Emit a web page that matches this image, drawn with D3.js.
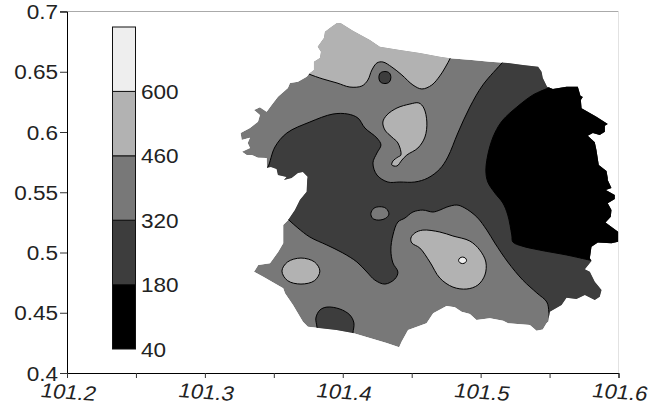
<!DOCTYPE html>
<meta charset="utf-8">
<style>
html, body { margin: 0; background: #fff; }
text { font-family: "Liberation Sans", Arial, sans-serif; fill: #222; }
.contour { fill: none; stroke: #000; stroke-width: 1px; }
</style>
<body>
<script src="https://d3js.org/d3.v7.min.js"></script>
<svg id="chart" width="660" height="410"></svg>
<script>

// levels of the contour map, and what the colour bar shows
var levels = [40, 180, 320, 460, 600, 740];
var levelLabels = [40, 180, 320, 460, 600];
var levelColors = ["#000000", "#3d3d3d", "#787878", "#b2b2b2", "#eeeeee"];

var xTicks = [101.2, 101.25, 101.3, 101.35, 101.4, 101.45, 101.5, 101.55, 101.6];
var xTickLabels = ["101.2", "", "101.3", "", "101.4", "", "101.5", "", "101.6"];
var yTicks = [0.4, 0.45, 0.5, 0.55, 0.6, 0.65, 0.7];

// outline of the mapped area [lon, lat]
var boundary = [[101.3958,.6905],[101.3987,.6902],[101.4074,.6841],[101.4197,.6763],[101.4269,.6708],[101.4414,.6680],
  [101.4559,.6656],[101.4704,.6625],[101.4777,.6612],[101.4936,.6597],[101.5067,.6583],[101.5197,.6573],[101.5306,.6556],
  [101.5417,.6542],[101.5442,.6500],[101.5451,.6448],[101.5482,.6376],[101.5524,.6357],[101.5623,.6376],[101.5705,.6376],
  [101.5724,.6301],[101.5741,.6290],[101.5727,.6265],[101.5732,.6197],[101.5840,.6127],[101.5922,.6066],[101.5901,.6052],
  [101.5901,.6002],[101.5864,.5975],[101.5814,.5992],[101.5777,.5969],[101.5828,.5914],[101.5840,.5850],[101.5857,.5726],
  [101.5913,.5676],[101.5922,.5618],[101.5922,.5601],[101.5949,.5535],[101.5908,.5518],[101.5973,.5477],[101.5973,.5444],
  [101.5922,.5408],[101.5949,.5352],[101.5944,.5297],[101.5906,.5250],[101.5997,.5172],[101.5997,.5089],[101.5949,.5076],
  [101.5850,.5084],[101.5804,.5048],[101.5792,.4952],[101.5804,.4929],[101.5756,.4860],[101.5792,.4840],[101.5828,.4757],
  [101.5877,.4688],[101.5864,.4633],[101.5828,.4605],[101.5756,.4647],[101.5695,.4614],[101.5623,.4625],[101.5587,.4564],
  [101.5502,.4508],[101.5489,.4425],[101.5478,.4412],[101.5451,.4362],[101.5405,.4351],[101.5357,.4398],[101.5199,.4412],
  [101.5163,.4434],[101.5067,.4454],[101.4970,.4439],[101.4922,.4489],[101.4862,.4508],[101.4813,.4545],[101.4753,.4556],
  [101.4656,.4495],[101.4608,.4412],[101.4474,.4356],[101.4427,.4259],[101.4409,.4213],[101.4318,.4249],[101.4074,.4332],
  [101.3955,.4356],[101.3747,.4384],[101.3711,.4425],[101.3639,.4564],[101.3581,.4661],[101.3568,.4703],[101.3423,.4799],
  [101.3356,.4840],[101.3387,.4896],[101.3472,.4910],[101.3532,.5006],[101.3568,.5076],[101.3568,.5228],[101.3604,.5269],
  [101.3653,.5352],[101.3689,.5435],[101.3738,.5504],[101.3742,.5601],[101.3745,.5629],[101.3711,.5668],[101.3675,.5660],
  [101.3629,.5618],[101.3573,.5601],[101.3593,.5626],[101.3530,.5643],[101.3520,.5693],[101.3479,.5709],[101.3450,.5704],
  [101.3448,.5784],[101.3385,.5787],[101.3339,.5809],[101.3303,.5809],[101.3269,.5836],[101.3327,.5867],[101.3310,.5909],
  [101.3327,.5953],[101.3267,.5933],[101.3259,.5992],[101.3327,.6033],[101.3385,.6085],[101.3399,.6141],[101.3356,.6182],
  [101.3399,.6205],[101.3448,.6168],[101.3484,.6224],[101.3530,.6293],[101.3602,.6365],[101.3617,.6407],[101.3675,.6417],
  [101.3738,.6459],[101.3762,.6490],[101.3791,.6514],[101.3791,.6583],[101.3834,.6614],[101.3842,.6666],[101.3818,.6708],
  [101.3863,.6780],[101.3871,.6832],[101.3919,.6874]];

// open contours, each runs past the outline at both ends
var northContour = [[101.3711,.6506],[101.3755,.6481],[101.3856,.6440],[101.3958,.6407],[101.4052,.6373],[101.4139,.6382],
  [101.4182,.6431],[101.4211,.6514],[101.4248,.6573],[101.4291,.6581],[101.4356,.6539],[101.4429,.6473],[101.4509,.6390],
  [101.4574,.6357],[101.4646,.6390],[101.4704,.6465],[101.4741,.6531],[101.4784,.6622],[101.4806,.6680]];
var northOutside = [[101.4806,.7],[101.3711,.7]];

var darkContourA = [[101.3428,.5668],[101.3457,.5709],[101.3508,.5875],[101.3595,.5992],[101.3762,.6083],[101.3929,.6149],
  [101.4037,.6149],[101.4110,.6116],[101.4161,.6033],[101.4248,.5950],[101.4277,.5892],[101.4248,.5826],[101.4219,.5743],
  [101.4248,.5643],[101.4327,.5585],[101.4414,.5585],[101.4523,.5585],[101.4617,.5618],[101.4704,.5693],[101.4762,.5792],
  [101.4835,.5992],[101.4922,.6207],[101.5016,.6390],[101.5161,.6581],[101.5190,.6622]];
var darkOutside = [[101.62,.68],[101.62,.42]];
var darkContourB = [[101.5495,.4423],[101.5495,.4506],[101.5480,.4589],[101.5408,.4664],[101.5306,.4771],[101.5197,.4921],
  [101.5103,.5079],[101.5045,.5186],[101.4973,.5294],[101.4886,.5369],[101.4828,.5394],[101.4755,.5377],[101.4704,.5352],
  [101.4654,.5336],[101.4581,.5352],[101.4509,.5336],[101.4451,.5286],[101.4400,.5253],[101.4364,.5145],[101.4349,.5020],
  [101.4364,.4913],[101.4400,.4838],[101.4378,.4780],[101.4306,.4738],[101.4233,.4771],[101.4175,.4838],[101.4103,.4921],
  [101.4001,.4996],[101.3885,.5062],[101.3762,.5128],[101.3675,.5203],[101.3610,.5269],[101.3566,.5319]];

var blackContour = [[101.5531,.6398],[101.5502,.6373],[101.5379,.6307],[101.5263,.6207],[101.5161,.6099],[101.5103,.5992],
  [101.5060,.5850],[101.5038,.5684],[101.5052,.5585],[101.5103,.5494],[101.5161,.5411],[101.5197,.5311],[101.5226,.5145],
  [101.5234,.5087],[101.5299,.5054],[101.5429,.5020],[101.5625,.4979],[101.5792,.4937],[101.5835,.4929]];
var blackOutside = [[101.62,.50],[101.62,.65]];

var southDarkContour = [[101.3813,.4315],[101.3813,.4381],[101.3805,.4456],[101.3834,.4522],[101.3885,.4547],[101.3979,.4531],
  [101.4052,.4481],[101.4081,.4415],[101.4074,.4332],[101.4074,.4273]];

// closed contours inside the area
var centralBlob = [[101.4291,.6083],[101.4320,.6141],[101.4393,.6199],[101.4487,.6232],[101.4552,.6241],[101.4588,.6199],
  [101.4610,.6083],[101.4596,.5958],[101.4545,.5867],[101.4465,.5809],[101.4429,.5767],[101.4393,.5718],[101.4356,.5726],
  [101.4364,.5759],[101.4400,.5792],[101.4422,.5809],[101.4400,.5909],[101.4356,.5958],[101.4306,.6016]];
var westBlob = [[101.3697,.4954],[101.3796,.4921],[101.3834,.4846],[101.3796,.4767],[101.3697,.4738],[101.3599,.4767],
  [101.3559,.4846],[101.3599,.4921]];
var eastBlob = [[101.4494,.5120],[101.4523,.5162],[101.4581,.5186],[101.4704,.5170],[101.4799,.5137],[101.4922,.5095],
  [101.4994,.5020],[101.5038,.4921],[101.5031,.4813],[101.4980,.4730],[101.4900,.4697],[101.4799,.4713],[101.4704,.4788],
  [101.4632,.4921],[101.4559,.5037],[101.4501,.5079]];
var northSpot = [[101.4306,.6502],[101.4338,.6490],[101.4349,.6452],[101.4338,.6415],[101.4306,.6402],[101.4273,.6415],
  [101.4262,.6452],[101.4273,.6490]];
var midSpot = [[101.4204,.5325],[101.4226,.5367],[101.4269,.5380],[101.4313,.5367],[101.4335,.5319],[101.4311,.5284],
  [101.4257,.5269],[101.4216,.5284]];
var peakSpot = [[101.4869,.4962],[101.4889,.4954],[101.4898,.4935],[101.4889,.4916],[101.4869,.4908],[101.4849,.4916],
  [101.4840,.4935],[101.4849,.4954]];

var x = d3.scaleLinear().domain([101.2, 101.6]).range([67, 618.5]);
var y = d3.scaleLinear().domain([0.4, 0.7]).range([373, 11.5]);
var yBar = d3.scaleLinear().domain([40, 740]).range([349, 27]);

var svg = d3.select("#chart");

var polyline = d3.line().x(function(d) { return x(d[0]); }).y(function(d) { return y(d[1]); });
var openCurve = d3.line().x(function(d) { return x(d[0]); }).y(function(d) { return y(d[1]); })
    .curve(d3.curveCatmullRom.alpha(0.5));
var closedCurve = d3.line().x(function(d) { return x(d[0]); }).y(function(d) { return y(d[1]); })
    .curve(d3.curveCatmullRomClosed.alpha(0.5));

svg.append("clipPath").attr("id", "area")
  .append("path").attr("d", polyline(boundary) + "Z");

// frame, the top and right sides are thin and light
svg.append("line").attr("x1", 60).attr("x2", 618.5).attr("y1", 11.5).attr("y2", 11.5).attr("stroke", "#aaa");
svg.append("line").attr("x1", 618.5).attr("x2", 618.5).attr("y1", 11.5).attr("y2", 373).attr("stroke", "#e2e2e2");

var map = svg.append("g").attr("clip-path", "url(#area)");

map.append("path").attr("d", polyline(boundary) + "Z").attr("fill", levelColors[2]);

// an open contour closed up outside the clip
function region(curves, fill) {
  var d = curves.map(function(c) {
    return c.outside ? polyline(c.points).replace("M", "L") : openCurve(c.points).replace(/^M/, "L");
  }).join("").replace("L", "M") + "Z";
  map.append("path").attr("d", d).attr("fill", fill);
  curves.forEach(function(c) {
    if (!c.outside) map.append("path").attr("class", "contour").attr("d", openCurve(c.points));
  });
}

function blob(points, fill) {
  map.append("path").attr("class", "contour").style("fill", fill).attr("d", closedCurve(points));
}

region([{points: northContour}, {points: northOutside, outside: true}], levelColors[3]);
region([{points: darkContourA}, {points: darkOutside, outside: true}, {points: darkContourB}], levelColors[1]);
region([{points: blackContour}, {points: blackOutside, outside: true}], levelColors[0]);
region([{points: southDarkContour}], levelColors[1]);

blob(centralBlob, levelColors[3]);
blob(westBlob, levelColors[3]);
blob(eastBlob, levelColors[3]);
blob(northSpot, levelColors[1]);
blob(midSpot, levelColors[2]);
blob(peakSpot, levelColors[4]);

// axes
var yAxis = svg.append("g").attr("transform", "translate(67,0)")
    .call(d3.axisLeft(y).tickValues(yTicks).tickSize(7).tickFormat(""));
yTicks.forEach(function(t) {
  svg.append("text")
      .attr("transform", "translate(58," + (y(t) + 7.5) + ") scale(1.1,1)")
      .attr("text-anchor", "end")
      .attr("font-size", 20.5)
      .text(String(t));
});

var xAxis = svg.append("g").attr("transform", "translate(0,373)")
    .call(d3.axisBottom(x).tickValues(xTicks).tickSize(5).tickFormat(""));
xTicks.forEach(function(t, i) {
  if (!xTickLabels[i]) return;
  svg.append("text")
      .attr("transform", "translate(" + x(t) + ",399) rotate(4) skewX(-10) scale(1.08,1)")
      .attr("text-anchor", "middle")
      .attr("font-size", 20.5)
      .text(xTickLabels[i]);
});
svg.selectAll(".domain").attr("stroke", "#000");
svg.selectAll(".tick line").attr("stroke", "#333");

// colour bar
var bar = svg.append("g");
bar.selectAll("rect")
    .data(levelColors)
  .enter().append("rect")
    .attr("x", 112.5)
    .attr("width", 23)
    .attr("y", function(d, i) { return yBar(levels[i + 1]); })
    .attr("height", function(d, i) { return yBar(levels[i]) - yBar(levels[i + 1]); })
    .attr("fill", function(d) { return d; })
    .attr("stroke", "#111");

bar.selectAll("text")
    .data(levelLabels)
  .enter().append("text")
    .attr("transform", function(d) { return "translate(141," + (yBar(d) + 7.5) + ") scale(1.1,1)"; })
    .attr("font-size", 20.5)
    .text(function(d) { return d; });

</script>
</body>
